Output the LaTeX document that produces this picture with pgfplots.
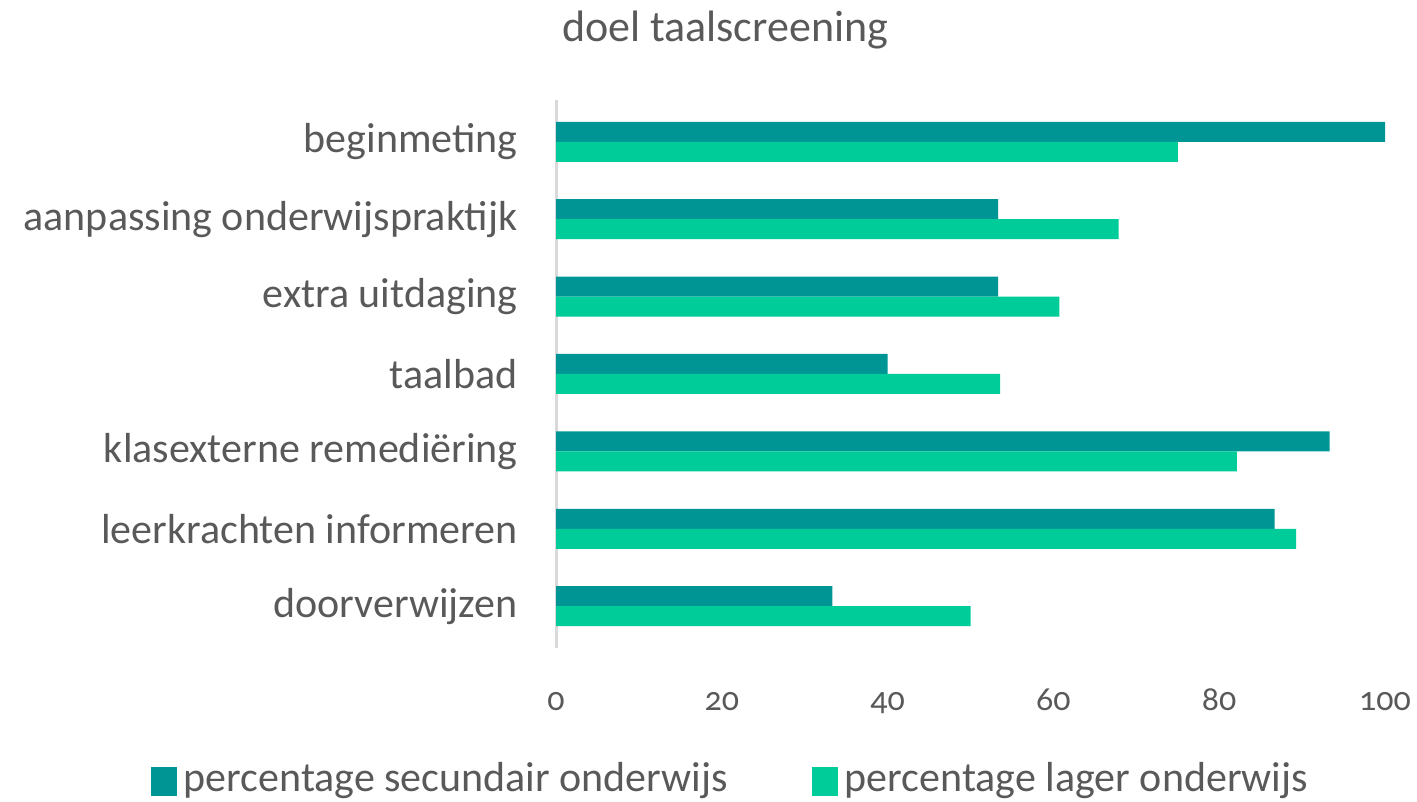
\documentclass[border=0pt]{standalone}
\usepackage{pgfplots}
\pgfplotsset{compat=1.18}
\usepackage{fontspec}
\setmainfont{Carlito}[Numbers=OldStyle]
\definecolor{sec}{HTML}{009595}
\definecolor{lag}{HTML}{00CC99}
\definecolor{txt}{HTML}{595959}
\definecolor{axl}{HTML}{D9D9D9}
\begin{document}
\begin{tikzpicture}
\useasboundingbox (0,0) rectangle (708.5pt,401pt);
\begin{axis}[
  at={(278pt,77pt)}, anchor=south west,
  scale only axis, width=414.5pt, height=274pt,
  xbar, bar width=10pt,
  xmin=0, xmax=100, ymin=-0.54, ymax=6.54,
  xtick={0,20,40,60,80,100},
  ytick={0,1,2,3,4,5,6},
  yticklabels={doorverwijzen,leerkrachten informeren,klasexterne remediëring,taalbad,extra uitdaging,aanpassing onderwijspraktijk,beginmeting},
  major tick length=0pt,
  /pgf/number format/assume math mode=true,
  separate axis lines,
  axis x line*=bottom, axis y line*=left,
  x axis line style={draw=none},
  y axis line style={draw=axl, line width=1.5pt, -},
  yticklabel style={font=\fontsize{21}{24}\selectfont, text=txt, anchor=east, inner sep=0pt, xshift=-19pt},
  xticklabel style={font=\fontsize{17}{20}\selectfont, text=txt, anchor=base, inner sep=0pt, yshift=-31pt},
  title={doel taalscreening},
  title style={font=\fontsize{22}{26}\selectfont, text=txt, at={(0.204,1.085)}, anchor=base, inner sep=0pt},
  legend columns=2,
  legend style={draw=none, fill=none, at={(-0.489,-0.27)}, anchor=south west, inner sep=0pt, outer sep=0pt,
    font=\fontsize{21}{24}\selectfont, text=txt,
    /tikz/every even column/.append style={column sep=42pt},
    nodes={inner sep=0pt, anchor=base west}},
  legend image code/.code={\fill[#1] (0pt,-2pt) rectangle (13pt,12.5pt); \path (16.5pt,0pt);},
  legend cell align=left,
]
\addplot[draw=none, fill=sec, bar shift=5pt] coordinates {
  (33.33,0) (86.67,1) (93.33,2) (40,3) (53.33,4) (53.33,5) (100,6)};
\addplot[draw=none, fill=lag, bar shift=-5pt] coordinates {
  (50,0) (89.29,1) (82.14,2) (53.57,3) (60.71,4) (67.86,5) (75,6)};
\legend{percentage secundair onderwijs, percentage lager onderwijs}
\end{axis}
\end{tikzpicture}
\end{document}
